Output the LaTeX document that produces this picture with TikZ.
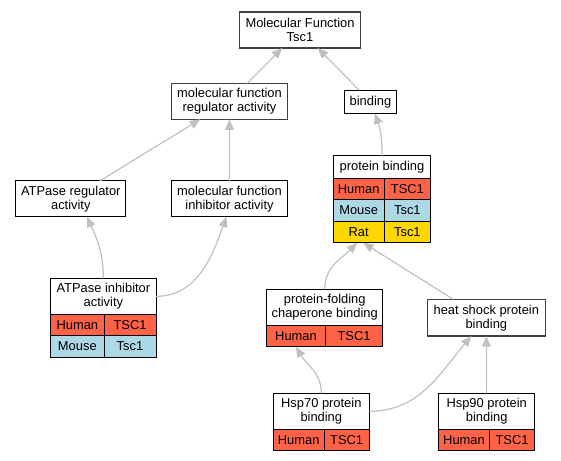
\documentclass[tikz,border=0pt]{standalone}
\usepackage{fontspec}
\setmainfont{Liberation Sans}
\usepackage{tikz}
\usetikzlibrary{arrows.meta, positioning}
\definecolor{human}{HTML}{FF6347}
\definecolor{mouse}{HTML}{ADD8E6}
\definecolor{rat}{HTML}{FFD700}
\definecolor{isagray}{HTML}{C0C0C0}
\definecolor{hubgray}{HTML}{404040}
\newcommand{\GOfont}{\fontsize{12.9bp}{14bp}\selectfont}
\tikzset{
    term/.style={draw=black, line width=1bp, fill=white, inner sep=0pt, outer sep=0pt, align=center, font=\GOfont},
    hub/.style={term, draw=hubgray, line width=1.5bp},
    cell/.style={draw=black, line width=1bp, inner sep=0pt, outer sep=0pt, minimum height=21.5bp, font=\GOfont},
    isa/.style={draw=isagray, line width=1.2bp, -{Triangle[length=10.5bp, width=8.7bp]}},
}
\begin{document}
\begin{tikzpicture}[x=1bp, y=1bp]
    \useasboundingbox (0,0) rectangle (561,-461);

    \node[hub, minimum width=121.4bp, minimum height=36bp] (top) at (300,-30) {Molecular Function\\Tsc1};
    \node[hub, minimum width=115.6bp, minimum height=36bp] (mfr) at (229.5,-101.3) {molecular function\\regulator activity};
    \node[term, minimum width=51.5bp, minimum height=23.3bp] (bind) at (370.5,-101.7) {binding};
    \node[term, minimum width=110.3bp, minimum height=35.7bp] (areg) at (70.8,-198.8) {ATPase regulator\\activity};
    \node[term, minimum width=115.6bp, minimum height=35.7bp] (mfi) at (229.5,-198.8) {molecular function\\inhibitor activity};
    \node[hub, minimum width=118bp, minimum height=36.7bp] (hsp) at (486.3,-317.7) {heat shock protein\\binding};

    \node[term, minimum width=97.4bp, minimum height=22.6bp] (pb) at (382,-167) {protein binding};
    \node[cell, fill=human, minimum width=50.7bp, below right=0pt and 0pt of pb.south west] (pb1) {Human};
    \node[cell, fill=human, minimum width=46.7bp, right=0pt of pb1] (pb2) {TSC1};
    \node[cell, fill=mouse, minimum width=50.7bp, below=0pt of pb1] (pb3) {Mouse};
    \node[cell, fill=mouse, minimum width=46.7bp, right=0pt of pb3] (pb4) {Tsc1};
    \node[cell, fill=rat, minimum width=50.7bp, below=0pt of pb3] (pb5) {Rat};
    \node[cell, fill=rat, minimum width=46.7bp, right=0pt of pb5] (pb6) {Tsc1};

    \node[term, minimum width=105.3bp, minimum height=36bp] (ai) at (103.35,-296.3) {ATPase inhibitor\\activity};
    \node[cell, fill=human, minimum width=53.3bp, below right=0pt and 0pt of ai.south west] (ai1) {Human};
    \node[cell, fill=human, minimum width=52bp, right=0pt of ai1] (ai2) {TSC1};
    \node[cell, fill=mouse, minimum width=53.3bp, below=0pt of ai1] (ai3) {Mouse};
    \node[cell, fill=mouse, minimum width=52bp, right=0pt of ai3] (ai4) {Tsc1};

    \node[term, minimum width=116bp, minimum height=36.4bp] (pf) at (324.7,-307.5) {protein-folding\\chaperone binding};
    \node[cell, fill=human, minimum width=58.6bp, minimum height=21bp, below right=0pt and 0pt of pf.south west] (pf1) {Human};
    \node[cell, fill=human, minimum width=57.4bp, minimum height=21bp, right=0pt of pf1] (pf2) {TSC1};

    \node[term, minimum width=96bp, minimum height=36bp] (h70) at (321.3,-411.3) {Hsp70 protein\\binding};
    \node[cell, fill=human, minimum width=50.7bp, minimum height=21.4bp, below right=0pt and 0pt of h70.south west] (h701) {Human};
    \node[cell, fill=human, minimum width=45.3bp, minimum height=21.4bp, right=0pt of h701] (h702) {TSC1};

    \node[term, minimum width=96bp, minimum height=36bp] (h90) at (486.7,-411.3) {Hsp90 protein\\binding};
    \node[cell, fill=human, minimum width=50.6bp, minimum height=21.4bp, below right=0pt and 0pt of h90.south west] (h901) {Human};
    \node[cell, fill=human, minimum width=45.4bp, minimum height=21.4bp, right=0pt of h901] (h902) {TSC1};

    \draw (mfr) edge[isa] (top);
    \draw (bind) edge[isa] (top);
    \draw (areg) edge[isa] (mfr);
    \draw (mfi) edge[isa] (mfr);
    \draw (pb.north) edge[isa, out=90, in=-70] (bind);
    \draw (ai.north) edge[isa, out=90, in=-65] ([xshift=16bp]areg.south);
    \draw (ai.east) edge[isa, out=0, in=-110] ([xshift=-3bp]mfi.south);
    \draw (pf.north) edge[isa, out=90, in=-135] ([xshift=-1.5bp]pb5.south);
    \draw ([xshift=-33bp]hsp.north) edge[isa] ([xshift=4.5bp]pb5.south);
    \draw (h70.north) edge[isa, out=90, in=-60] (pf1.south);
    \draw (h70.east) edge[isa, out=0, in=-130] ([xshift=-15bp]hsp.south);
    \draw (h90) edge[isa] (hsp);
\end{tikzpicture}
\end{document}
